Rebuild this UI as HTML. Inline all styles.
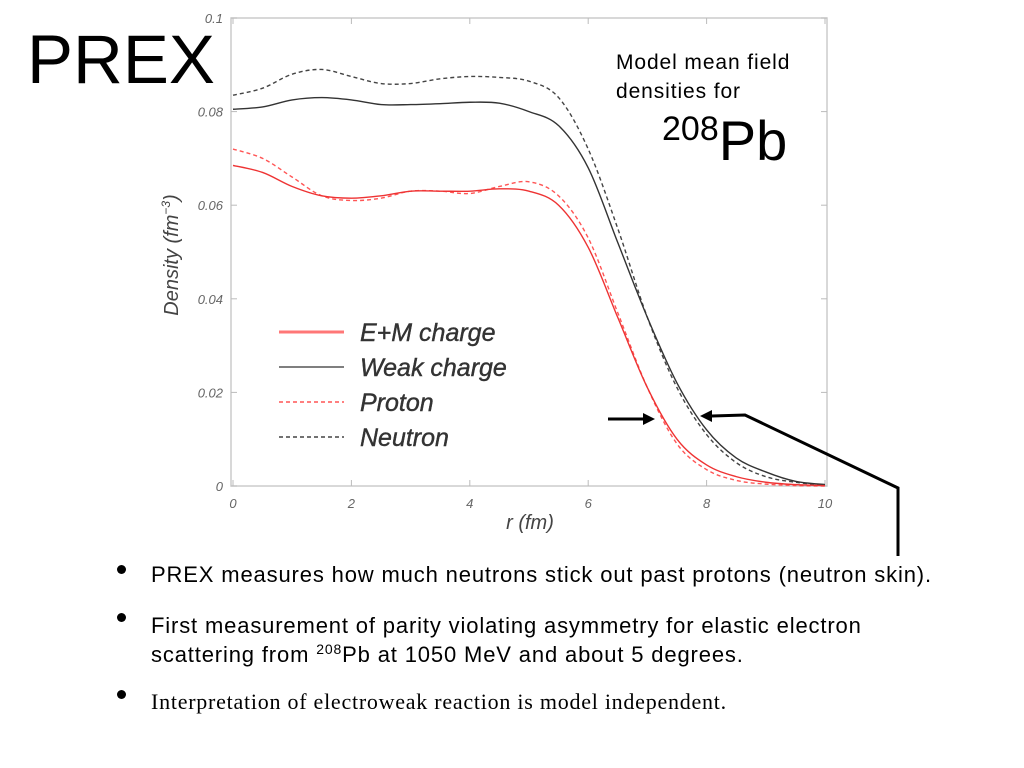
<!DOCTYPE html>
<html><head><meta charset="utf-8"><style>
body{margin:0;width:1024px;height:768px;background:#fff;overflow:hidden;font-family:"Liberation Sans",sans-serif;position:relative}
.t{position:absolute;color:#000;white-space:nowrap}
.dot{position:absolute;width:9px;height:9px;border-radius:50%;background:#000}
</style></head><body>
<svg width="1024" height="768" style="position:absolute;left:0;top:0">
<g id="frame"></g><g id="curves"></g><g id="legend"></g>
<g stroke="#000" stroke-width="3" fill="none">
<line x1="608" y1="419" x2="645" y2="419"/><polygon points="655,419 643,413 643,425" fill="#000" stroke="none"/>
<polyline points="712,416 745,415 898,488 898,556"/><polygon points="700,416 712,410 712,422" fill="#000" stroke="none"/>
</g>
</svg>
<div class="t" style="left:27px;top:20px;font-size:69px;line-height:80px">PREX</div>
<div class="t" style="left:616px;top:48px;font-size:21px;letter-spacing:0.9px;line-height:29px">Model mean field<br>densities for</div>
<div class="t" style="left:662px;top:97px;font-size:56px;line-height:64px"><span style="font-size:34px;vertical-align:20px">208</span>Pb</div>
<div class="dot" style="left:117px;top:565px"></div>
<div class="dot" style="left:117px;top:613px"></div>
<div class="dot" style="left:117px;top:690px"></div>
<div class="t" style="left:151px;top:562px;font-size:22px;letter-spacing:0.85px;line-height:26px">PREX measures how much neutrons stick out past protons (neutron skin).</div>
<div class="t" style="left:151px;top:611px;font-size:22px;letter-spacing:0.85px;line-height:29px">First measurement of parity violating asymmetry for elastic electron<br>scattering from <span style="font-size:14px;vertical-align:8px;line-height:0">208</span>Pb at 1050 MeV and about 5 degrees.</div>
<div class="t" style="left:151px;top:689px;font-size:22px;letter-spacing:0.75px;line-height:26px;font-family:'Liberation Serif',serif">Interpretation of electroweak reaction is model independent.</div>
<script>
const rVals=[0,0.5,1,1.5,2,2.5,3,3.5,4,4.5,5,5.5,6,6.5,7,7.5,8,8.5,9,9.5,10];
const weak=[0.0805,0.081,0.0825,0.083,0.0825,0.0815,0.0815,0.0817,0.082,0.0818,0.080,0.077,0.068,0.052,0.036,0.022,0.012,0.006,0.003,0.001,0.0003];
const neutron=[0.0835,0.085,0.088,0.089,0.0875,0.086,0.086,0.087,0.0875,0.0873,0.0865,0.083,0.072,0.055,0.036,0.021,0.011,0.005,0.002,0.0008,0.0002];
const em=[0.0685,0.067,0.064,0.062,0.0615,0.062,0.063,0.063,0.063,0.0635,0.063,0.060,0.051,0.036,0.021,0.010,0.0045,0.002,0.0008,0.0003,0.0001];
const proton=[0.072,0.070,0.066,0.062,0.061,0.0615,0.063,0.063,0.0625,0.064,0.065,0.062,0.053,0.037,0.021,0.009,0.0035,0.0012,0.0004,0.0001,0];
const xTicks=["0","2","4","6","8","10"];
const yTicks=["0","0.02","0.04","0.06","0.08","0.1"];
const NS="http://www.w3.org/2000/svg";
const X=v=>233+v*59.2, Y=v=>486-v*4680;
function mk(t,a,p){const e=document.createElementNS(NS,t);for(const k in a)e.setAttribute(k,a[k]);p.appendChild(e);return e;}
const fr=document.getElementById('frame');
const box=mk('rect',{x:231,y:18,width:596,height:468,fill:'none',stroke:'#ccc','stroke-width':1.5},fr);


xTicks.forEach(s=>{const v=+s;const tx=mk('text',{x:X(v),y:508,'font-size':13,'font-style':'italic','text-anchor':'middle',fill:'#666','font-family':'Liberation Sans'},fr);tx.textContent=s;


mk('line',{x1:X(v),x2:X(v),y1:486,y2:480,stroke:'#bbb'},fr);mk('line',{x1:X(v),x2:X(v),y1:18,y2:24,stroke:'#bbb'},fr);});
yTicks.forEach(s=>{const v=+s;const tx=mk('text',{x:223,y:Y(v)+5,'font-size':13,'font-style':'italic','text-anchor':'end',fill:'#666','font-family':'Liberation Sans'},fr);tx.textContent=s;


mk('line',{x1:231,x2:237,y1:Y(v),y2:Y(v),stroke:'#bbb'},fr);mk('line',{x1:821,x2:827,y1:Y(v),y2:Y(v),stroke:'#bbb'},fr);});
const xt=mk('text',{x:530,y:529,'font-size':20,'font-style':'italic','text-anchor':'middle',fill:'#444','font-family':'Liberation Sans'},fr);xt.textContent='r (fm)';


const yt=mk('text',{x:0,y:0,'font-size':20,'font-style':'italic','text-anchor':'middle',fill:'#444','font-family':'Liberation Sans',transform:'translate(178,255) rotate(-90)'},fr);yt.innerHTML='Density (fm<tspan dy="-8" font-size="12">−3</tspan><tspan dy="8">)</tspan>';


function path(vals){const p=rVals.map((r,i)=>[X(r),Y(vals[i])]);let d='M'+p[0];for(let i=0;i<p.length-1;i++){const a=p[i-1]||p[i],b=p[i],c=p[i+1],e=p[i+2]||c;d+=` C${b[0]+(c[0]-a[0])/6},${b[1]+(c[1]-a[1])/6} ${c[0]-(e[0]-b[0])/6},${c[1]-(e[1]-b[1])/6} ${c[0]},${c[1]}`;}return d;}
const series=[[neutron,'#444','4,3','neutron-line'],[weak,'#333','','weak-charge-line'],[proton,'#f55','4,3','proton-line'],[em,'#e33','','em-charge-line']];
const cg=document.getElementById('curves');
series.forEach(s=>{const e=mk('path',{d:path(s[0]),fill:'none',stroke:s[1],'stroke-width':1.4,'stroke-dasharray':s[2]},cg);

});
const lg=document.getElementById('legend');
const leg=[['E+M charge','#f77','',3],['Weak charge','#333','',1.2],['Proton','#f55','4,3',1.5],['Neutron','#444','4,3',1.5]];
leg.forEach((l,i)=>{const y=332+i*35;mk('line',{x1:279,x2:344,y1:y,y2:y,stroke:l[1],'stroke-width':l[3],'stroke-dasharray':l[2]},lg);
const t=mk('text',{x:360,y:y+9,'font-size':25,'font-style':'italic',fill:'#333','font-family':'Liberation Sans',stroke:'#333','stroke-width':0.4},lg);t.textContent=l[0];

});
</script>
</body></html>
